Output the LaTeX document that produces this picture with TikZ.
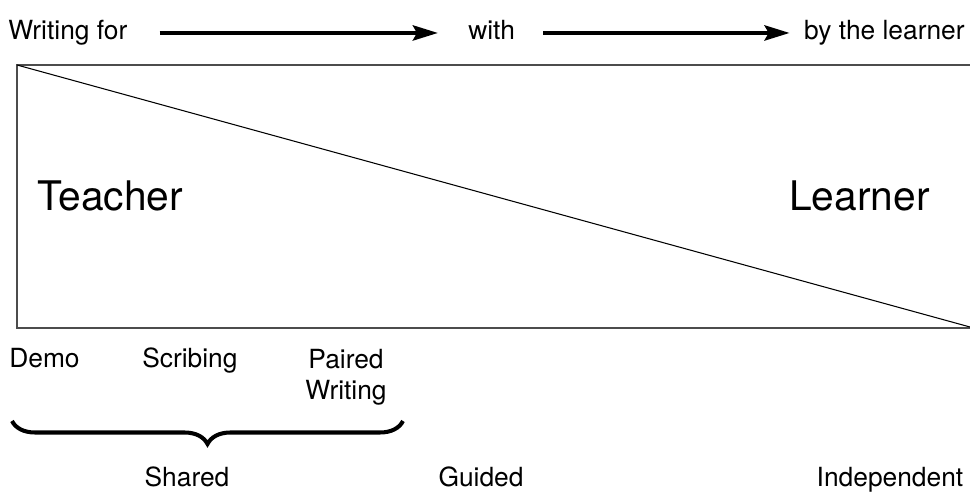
\documentclass[tikz,border=0pt]{standalone}
\usepackage{fontspec}
\setmainfont{TeX Gyre Heros}
\usetikzlibrary{arrows.meta,decorations.pathreplacing}

\tikzset{
  small/.style={font=\fontsize{15}{17.6}\selectfont, inner sep=0pt},
  big/.style={font=\fontsize{23.2}{25}\selectfont, inner sep=0pt},
  toprow/.style={small, text height=0.8em, text depth=0pt},
  flow/.style={line width=2.5pt, -{Stealth[length=0.5cm,width=0.3cm,inset=0.08cm]}},
  frame/.style={draw=black!70, line width=0.75pt},
}

\begin{document}
\begin{tikzpicture}[x=0.02cm, y=-0.02cm]
  \useasboundingbox (0,0) rectangle (970,492);
  % top row
  \node[toprow, anchor=base west] (wfor) at (8,40) {Writing for};
  \node[toprow, anchor=base west] (with) at (468,40) {with};
  \node[toprow, anchor=base east] (bylearner) at (965,40) {by the learner};
  \draw[flow, shorten <=0.64cm, shorten >=0.6cm] (wfor.east) -- (with.west);
  \draw[flow, shorten <=0.56cm, shorten >=0.28cm] (with.east) -- (bylearner.west);

  % box and diagonal
  \coordinate (tl) at (17,65);
  \coordinate (bl) at (17,328);
  \coordinate (br) at (972,328);
  \draw[frame] (972,65) -- (tl) -- (bl) -- (br);
  \draw[line width=0.6pt] (tl) -- (970,327);
  \node[big, anchor=west] (teacher) at (37,196) {Teacher};
  \node[big, anchor=east] (learner) at (930,196) {Learner};

  % stages
  \node[small, anchor=base west] (demo) at (9,368) {Demo};
  \node[small, anchor=base west] (scribing) at (142,368) {Scribing};
  \node[small, anchor=north, align=center] (paired) at (346,349) {Paired\\Writing};

  % brace
  \coordinate (braceL) at (12,421);
  \coordinate (braceR) at (403,421);
  \draw[line width=2.3pt, decorate, decoration={brace, mirror, amplitude=0.46cm}] (braceL) -- (braceR);

  % modes
  \node[small, anchor=base] (shared) at (187,487) {Shared};
  \node[small, anchor=base] (guided) at (481,487) {Guided};
  \node[small, anchor=base] (indep) at (890,487) {Independent};
\end{tikzpicture}
\end{document}
